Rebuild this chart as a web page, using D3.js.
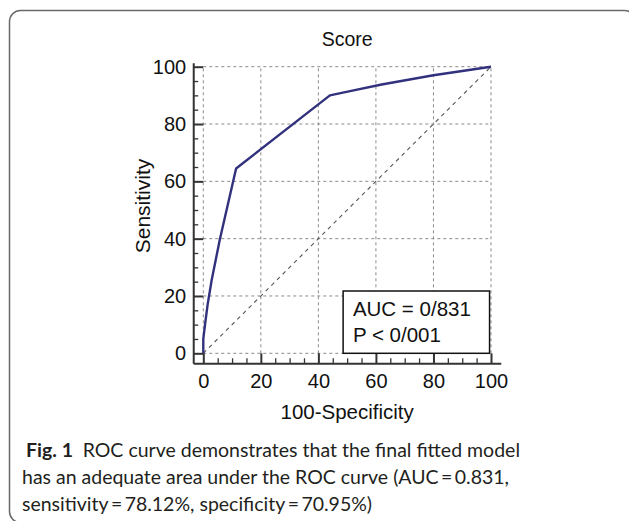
<!DOCTYPE html>
<html lang="en">
<head>
<meta charset="UTF-8">
<title>ROC curve - Score</title>
<script src="https://d3js.org/d3.v7.min.js"></script>
<style>
body, html {
	margin: 0;
	padding: 0;
	background: white;
}
text {
	font-family: "Liberation Sans", Arial, sans-serif;
	fill: #111;
}
.gridline line {
	stroke: #8a8a8a;
	stroke-width: 1px;
	stroke-dasharray: 3,3;
}
.axis path,
.axis line {
	stroke: #333;
	stroke-width: 2px;
}
.minor line {
	stroke: #333;
	stroke-width: 1.3px;
}
.diagonal {
	fill: none;
	stroke: #555;
	stroke-width: 1.1px;
	stroke-dasharray: 4,4;
}
.roc {
	fill: none;
	stroke: #31317d;
	stroke-width: 2.4px;
	stroke-linejoin: round;
}
.caption {
	font-family: Lato, "Open Sans", sans-serif;
	font-size: 18.5px;
	fill: #231f20;
}
</style>
</head>
<body>
<script>
// ROC points (100-specificity, sensitivity)
var fpr = [0, 0, 0.6, 1.5, 2.9, 5.8, 11.4, 44, 51, 62, 80, 100];
var tpr = [0, 5, 10, 17, 25.5, 40, 64.5, 90, 91.5, 93.8, 97, 100];

var majorTicks = [0, 20, 40, 60, 80, 100];
var minorTicks = [5, 10, 15, 25, 30, 35, 45, 50, 55, 65, 70, 75, 85, 90, 95];

var chartTitle = "Score";
var xLabel = "100-Specificity";
var yLabel = "Sensitivity";
var statLines = ["AUC = 0/831", "P < 0/001"];

var captionLines = [
	{bold: "Fig. 1", text: "\u2002ROC curve demonstrates that the final fitted model", x: 26, w: 494},
	{bold: "", text: "has an adequate area under the ROC curve (AUC\u2009=\u20090.831,", x: 22, w: 487},
	{bold: "", text: "sensitivity\u2009=\u200978.12%, specificity\u2009=\u200970.95%)", x: 22, w: 350}
];

var w = 629, h = 521;

var svg = d3.select("body").append("svg")
	.attr("width", w)
	.attr("height", h);

// outer frame
svg.append("rect")
	.attr("x", 9.5).attr("y", 10.5)
	.attr("width", 626).attr("height", 512)
	.attr("rx", 11)
	.style("fill", "none")
	.style("stroke", "#6a6a6a")
	.style("stroke-width", 1.5);

var x = d3.scaleLinear().domain([0, 100]).range([203.3, 491]);
var y = d3.scaleLinear().domain([0, 100]).range([353.3, 66.7]);

// axis lines sit a little outside the data area
var xAxisScale = x.copy().domain([-3.5, 103.4]).range([x(-3.5), x(103.4)]);
var yAxisScale = y.copy().domain([-3.5, 101.4]).range([y(-3.5), y(101.4)]);
var axisX0 = x(-3.5);
var axisY0 = y(-3.5);

// gridlines
svg.append("g")
	.classed("gridline", true)
	.selectAll("line.v")
	.data(majorTicks)
	.enter().append("line")
	.attr("x1", function(d){ return x(d); })
	.attr("x2", function(d){ return x(d); })
	.attr("y1", y(0))
	.attr("y2", y(100));

svg.append("g")
	.classed("gridline", true)
	.selectAll("line.h")
	.data(majorTicks)
	.enter().append("line")
	.attr("x1", x(0))
	.attr("x2", x(100))
	.attr("y1", function(d){ return y(d); })
	.attr("y2", function(d){ return y(d); });

// reference diagonal
svg.append("line")
	.classed("diagonal", true)
	.attr("x1", x(0)).attr("y1", y(0))
	.attr("x2", x(100)).attr("y2", y(100));

// ROC curve
var rocData = fpr.map(function(d, i){ return [d, tpr[i]]; });
var line = d3.line()
	.x(function(d){ return x(d[0]); })
	.y(function(d){ return y(d[1]); });

svg.append("path")
	.datum(rocData)
	.classed("roc", true)
	.attr("d", line);

// axes
var xAxis = d3.axisBottom(xAxisScale)
	.tickValues(majorTicks)
	.tickSizeInner(-10)
	.tickSizeOuter(0)
	.tickPadding(10);

var yAxis = d3.axisLeft(yAxisScale)
	.tickValues(majorTicks)
	.tickSizeInner(-10)
	.tickSizeOuter(0)
	.tickPadding(7);

var gx = svg.append("g")
	.classed("x axis", true)
	.attr("transform", "translate(0," + axisY0 + ")")
	.call(xAxis);

var gy = svg.append("g")
	.classed("y axis", true)
	.attr("transform", "translate(" + axisX0 + ",0)")
	.call(yAxis);

gx.selectAll("text").attr("font-size", 20).attr("font-family", "Liberation Sans, Arial, sans-serif").style("fill", "#111");
gy.selectAll("text").attr("font-size", 20).attr("font-family", "Liberation Sans, Arial, sans-serif").style("fill", "#111");

// minor ticks
svg.append("g")
	.classed("minor", true)
	.attr("transform", "translate(0," + axisY0 + ")")
	.call(d3.axisBottom(xAxisScale).tickValues(minorTicks).tickSizeInner(-5).tickSizeOuter(0).tickFormat(""))
	.select(".domain").remove();

svg.append("g")
	.classed("minor", true)
	.attr("transform", "translate(" + axisX0 + ",0)")
	.call(d3.axisLeft(yAxisScale).tickValues(minorTicks).tickSizeInner(-5).tickSizeOuter(0).tickFormat(""))
	.select(".domain").remove();

// titles
svg.append("text")
	.attr("x", (x(0) + x(100)) / 2)
	.attr("y", 46)
	.style("text-anchor", "middle")
	.style("font-size", "19.5px")
	.text(chartTitle);

svg.append("text")
	.attr("x", (x(0) + x(100)) / 2)
	.attr("y", 419)
	.style("text-anchor", "middle")
	.style("font-size", "20.5px")
	.text(xLabel);

svg.append("text")
	.attr("transform", "translate(150," + ((y(0) + y(100)) / 2 - 4) + ") rotate(-90)")
	.style("text-anchor", "middle")
	.style("font-size", "21px")
	.text(yLabel);

// stats box
var box = svg.append("g");
box.append("rect")
	.attr("x", x(48.6))
	.attr("y", 291)
	.attr("width", x(99.5) - x(48.6))
	.attr("height", y(0) - 291)
	.style("fill", "white")
	.style("stroke", "#111")
	.style("stroke-width", 1.5);

box.selectAll("text")
	.data(statLines)
	.enter().append("text")
	.attr("x", x(52))
	.attr("y", function(d, i){ return 316 + i * 26; })
	.style("font-size", "20.5px")
	.text(function(d){ return d; });

// caption
var cap = svg.selectAll(".caption")
	.data(captionLines)
	.enter().append("text")
	.classed("caption", true)
	.attr("x", function(d){ return d.x; })
	.attr("y", function(d, i){ return 457 + i * 27; })
	.attr("textLength", function(d){ return d.w; })
	.attr("lengthAdjust", "spacingAndGlyphs");

cap.append("tspan")
	.style("font-weight", "bold")
	.text(function(d){ return d.bold; });
cap.append("tspan")
	.text(function(d){ return d.text; });
</script>
</body>
</html>
